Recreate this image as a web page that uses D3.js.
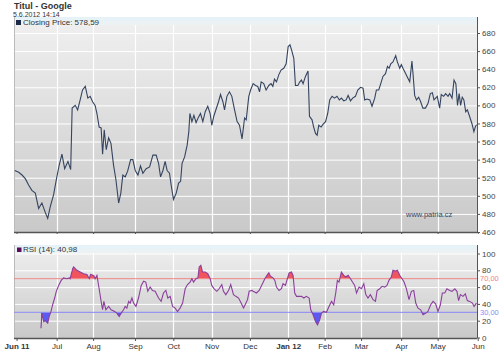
<!DOCTYPE html>
<html>
<head>
<meta charset="utf-8">
<script src="https://cdn.jsdelivr.net/npm/d3@7"></script>
<style>
  body { margin: 0; background: #fff; }
  svg { display: block; font-family: "Liberation Sans", Arial, sans-serif; }
</style>
</head>
<body>
<div id="chart"></div>
<script>
// trading day index (0 = 1 Jun 2011), closing price
const closing = [
  [-1.0,528],[1.2,526],[3.0,523],[4.8,519],[6.6,512],[8.4,506],[10.3,503],[12.1,486],[13.9,492],[15.7,482],
  [17.1,475],[18.5,488],[20.3,501],[22.1,521],[23.4,534],[24.9,546],[26.4,530],[28.2,538],[29.7,529],[30.5,597],
  [32.2,600],[33.5,595],[34.9,606],[36.2,617],[37.7,621],[39.1,608],[40.4,610],[41.7,604],[43.1,600],[44.1,591],
  [45.3,576],[46.4,575],[47.2,546],[48.1,573],[49.2,551],[50.5,564],[51.8,558],[53.2,534],[54.5,518],[56.0,492],
  [57.2,503],[58.3,523],[59.6,521],[60.9,527],[62.6,540],[63.8,540],[65.1,528],[66.6,523],[68.0,533],[69.3,525],
  [71.1,530],[73.0,532],[74.8,545],[76.6,545],[77.9,536],[79.0,521],[80.3,528],[81.5,538],[82.6,528],[83.9,525],
  [84.8,512],[86.1,496],[87.6,503],[88.9,514],[90.0,516],[90.8,536],[92.2,543],[93.6,556],[94.5,571],[95.1,591],
  [96.2,582],[97.3,589],[98.5,581],[99.8,587],[100.9,591],[102.2,582],[103.5,593],[104.9,599],[106.2,591],[107.1,578],
  [108.2,588],[109.5,596],[110.8,604],[111.9,612],[113.2,604],[114.1,595],[115.4,610],[116.8,615],[118.1,610],[119.6,595],
  [121.0,582],[122.3,578],[123.7,563],[125.1,586],[126.0,584],[127.4,610],[128.4,617],[129.8,624],[131.1,622],[132.3,621],
  [133.3,615],[134.2,626],[135.6,624],[136.9,617],[138.4,622],[139.6,624],[140.6,621],[141.5,629],[142.6,626],[143.9,634],
  [145.1,639],[146.6,641],[147.9,646],[149.0,665],[150.0,667],[150.9,661],[152.1,652],[153.0,622],[154.3,622],[155.4,626],
  [156.3,628],[157.2,624],[158.5,632],[159.9,638],[160.7,588],[162.1,584],[163.0,576],[164.0,569],[164.9,567],[165.8,578],
  [167.1,576],[168.1,579],[169.5,582],[170.7,591],[171.8,606],[173.1,610],[174.4,608],[175.8,610],[177.1,606],[178.2,608],
  [179.5,605],[180.8,606],[181.9,611],[183.2,605],[184.4,608],[185.9,610],[187.2,617],[188.7,620],[190.1,619],[191.0,606],
  [192.3,607],[193.8,606],[195.0,599],[196.5,608],[197.4,617],[198.7,617],[199.8,624],[201.0,632],[202.4,635],[203.5,643],
  [204.4,641],[205.3,646],[206.5,648],[208.0,655],[208.9,648],[210.2,641],[211.1,645],[212.0,641],[213.5,635],[214.7,630],
  [215.7,626],[216.9,649],[217.5,635],[218.4,611],[219.4,606],[220.6,609],[221.7,604],[222.9,597],[224.3,597],[225.7,602],
  [227.0,613],[228.1,614],[229.0,606],[229.9,608],[230.8,610],[232.1,597],[233.0,612],[234.3,610],[235.4,613],[236.7,610],
  [237.6,613],[238.9,608],[240.0,628],[241.0,624],[241.9,600],[242.8,613],[243.6,600],[244.5,609],[245.4,606],[246.4,593],
  [247.3,595],[248.5,588],[249.8,580],[250.9,571],[251.8,577],[252.4,578.59]
];

// trading day index, RSI(14)
const rsi = [
  [13.4,11],[13.9,29],[14.9,19],[15.7,20],[17.1,17],[17.9,25],[18.9,31],[19.8,39],[20.9,47],[21.8,55],
  [23.1,62],[24.5,68],[25.8,71],[27.6,70],[28.9,71],[29.4,70],[30.8,82],[31.3,84],[33.1,80],[34.9,78],
  [36.8,76],[38.6,75],[39.9,70],[40.6,75],[42.3,74],[43.1,70],[44.1,74],[45.3,58],[46.4,43],[47.2,33],
  [47.9,43],[49.0,33],[50.5,37],[51.9,33],[53.8,31],[55.0,29],[56.3,25],[57.4,29],[58.7,33],[59.6,37],
  [60.5,35],[61.5,43],[62.3,41],[63.3,47],[64.2,41],[65.5,37],[66.9,47],[68.4,62],[69.7,67],[70.9,66],
  [72.0,55],[73.3,60],[74.6,56],[76.0,55],[77.9,47],[79.3,43],[80.6,53],[81.9,56],[83.0,47],[84.3,49],
  [85.6,37],[87.0,35],[88.3,31],[89.7,35],[91.1,41],[92.5,58],[93.8,63],[95.2,66],[96.2,70],[97.1,66],
  [98.4,70],[99.5,71],[100.2,84],[101.1,86],[102.0,78],[103.5,78],[104.9,76],[106.2,70],[107.1,62],[108.4,58],
  [109.9,55],[111.1,58],[112.6,63],[113.5,55],[114.8,51],[116.3,56],[117.5,63],[119.0,51],[120.3,49],[121.8,47],
  [123.2,41],[124.5,35],[125.4,39],[126.7,45],[127.6,55],[129.1,56],[129.8,55],[131.6,53],[133.1,56],[134.9,64],
  [136.2,70],[137.4,74],[138.4,77],[139.3,73],[140.7,71],[141.7,68],[142.6,60],[144.0,56],[145.3,58],[146.2,64],
  [147.5,62],[148.6,70],[149.5,77],[150.8,78],[151.7,74],[152.6,53],[153.6,49],[155.0,49],[156.3,49],[157.6,47],
  [159.0,49],[160.5,47],[161.4,33],[162.7,27],[164.0,19],[165.1,15],[166.3,21],[167.3,29],[168.5,31],[170.0,30],
  [171.4,37],[172.8,43],[174.0,39],[175.1,53],[176.0,68],[176.9,66],[178.2,78],[179.5,74],[180.6,72],[181.9,74],
  [183.2,70],[184.3,66],[185.5,62],[186.5,53],[187.9,60],[189.2,58],[190.5,64],[191.6,51],[192.8,47],[194.1,51],
  [195.6,45],[196.9,43],[197.8,56],[199.2,58],[200.5,61],[202.0,60],[203.2,62],[204.3,68],[205.6,72],[206.5,80],
  [207.8,79],[208.9,80],[210.2,74],[211.5,70],[212.6,66],[213.9,58],[215.3,45],[216.6,55],[217.9,56],[219.0,41],
  [220.2,35],[221.7,33],[223.0,27],[224.5,29],[225.7,31],[227.2,39],[228.5,43],[229.9,40],[231.2,31],[232.5,39],
  [233.6,53],[234.9,53],[236.1,58],[237.6,56],[238.9,55],[240.4,58],[241.6,55],[242.5,44],[243.5,51],[244.9,49],
  [246.2,52],[247.3,44],[248.6,43],[250.1,41],[251.0,37],[252.3,40.98]
];

const monthDays = [0, 22, 42, 65, 86, 107, 128, 149, 169, 189, 211, 231, 253];
const monthLabels = ["Jun 11", "Jul", "Aug", "Sep", "Oct", "Nov", "Dec", "Jan 12", "Feb", "Mar", "Apr", "May", "Jun"];
const priceTicks = [460, 480, 500, 520, 540, 560, 580, 600, 620, 640, 660, 680];
const rsiTicks = [0, 20, 40, 60, 80, 100];
const rsiLevels = [70, 30];

const width = 500, height = 351;
const left = 14, right = 477;
// panels: band top, plot bottom
const p1 = {top: 17, bottom: 232};
const p2 = {top: 245, bottom: 338};

const x = d3.scaleLinear().domain([-1.4, 252.6]).range([left, right]);
const yPrice = d3.scaleLinear().domain([460, 680]).range([232, 33]);
const yRsi = d3.scaleLinear().domain([0, 100]).range([337.5, 253.5]);

const svg = d3.select("#chart").append("svg")
  .attr("width", width).attr("height", height)
  .attr("viewBox", [0, 0, width, height]);

const defs = svg.append("defs");
const bg = defs.append("linearGradient").attr("id", "bg").attr("x1", 0).attr("y1", 0).attr("x2", 0).attr("y2", 1);
bg.append("stop").attr("offset", "0%").attr("stop-color", "#f0f0f0");
bg.append("stop").attr("offset", "100%").attr("stop-color", "#c9c9c9");
const band = defs.append("linearGradient").attr("id", "band").attr("x1", 0).attr("y1", 0).attr("x2", 0).attr("y2", 1);
band.append("stop").attr("offset", "0%").attr("stop-color", "#e4f3f9");
band.append("stop").attr("offset", "100%").attr("stop-color", "#eef2f3");

defs.append("clipPath").attr("id", "above70").append("rect")
  .attr("x", left).attr("y", p2.top).attr("width", right - left).attr("height", yRsi(70) - p2.top);
defs.append("clipPath").attr("id", "below30").append("rect")
  .attr("x", left).attr("y", yRsi(30)).attr("width", right - left).attr("height", p2.bottom - yRsi(30));

// title
svg.append("text").attr("x", 14).attr("y", 9).attr("font-size", 9).attr("font-weight", "bold")
  .attr("fill", "#333").text("Titul - Google");
svg.append("text").attr("x", 13).attr("y", 16.5).attr("font-size", 7).attr("fill", "#333")
  .text("5.6.2012 14:14");

function panel(p, yScale, ticks) {
  svg.append("rect").attr("x", left).attr("y", p.top).attr("width", right - left).attr("height", p.bottom - p.top)
    .attr("fill", "url(#bg)");
  svg.append("rect").attr("x", left).attr("y", p.top).attr("width", right - left).attr("height", 8)
    .attr("fill", "url(#band)");
  // grid
  svg.append("g").selectAll("line").data(ticks).join("line")
    .attr("x1", left).attr("x2", right)
    .attr("y1", d => yScale(d) + 0.5).attr("y2", d => yScale(d) + 0.5)
    .attr("stroke", "#fff").attr("stroke-width", 1);
  svg.append("g").selectAll("line").data(monthDays.slice(1, -1)).join("line")
    .attr("x1", d => Math.round(x(d)) + 0.5).attr("x2", d => Math.round(x(d)) + 0.5)
    .attr("y1", p.top + 8).attr("y2", p.bottom)
    .attr("stroke", "#fff").attr("stroke-width", 1.2);
  svg.append("line").attr("x1", left + 0.5).attr("x2", left + 0.5).attr("y1", p.top).attr("y2", p.bottom)
    .attr("stroke", "#bbb");
}

function styleAxis(g) {
  g.selectAll(".domain").attr("stroke", "#555");
  g.selectAll(".tick line").attr("stroke", "#555");
  g.selectAll(".tick text").attr("fill", "#444").attr("font-size", 8)
    .attr("font-family", "'Liberation Sans', Arial, sans-serif");
}

// price panel
panel(p1, yPrice, priceTicks);

svg.append("path").datum(closing)
  .attr("fill", "none").attr("stroke", "#34445f").attr("stroke-width", 1.1)
  .attr("d", d3.line().x(d => x(d[0])).y(d => yPrice(d[1])));

svg.append("text").attr("x", 406).attr("y", 217).attr("font-size", 7.5).attr("fill", "#334466")
  .text("www.patria.cz");

svg.append("g").attr("transform", `translate(${right},0)`)
  .call(d3.axisRight(yPrice).tickValues(priceTicks).tickSize(3).tickPadding(2).tickSizeOuter(0))
  .call(g => g.select(".domain").attr("d", `M0.5,${p1.top}V${p1.bottom}`))
  .call(styleAxis);

svg.append("g").attr("transform", `translate(0,${p1.bottom})`)
  .call(d3.axisBottom(x).tickValues(monthDays).tickSize(2).tickFormat("").tickSizeOuter(0))
  .call(g => g.select(".domain").attr("d", `M${left},0.5H${right}`).attr("stroke-width", 1.5))
  .call(styleAxis);

svg.append("rect").attr("x", 16).attr("y", 20).attr("width", 5).attr("height", 5).attr("fill", "#1c2a48");
svg.append("text").attr("x", 23).attr("y", 24.5).attr("font-size", 8).attr("fill", "#333")
  .text("Closing Price: 578,59");

// RSI panel
panel(p2, yRsi, [20, 40, 60, 80, 100]);

const rsiArea = level => d3.area().x(d => x(d[0])).y0(yRsi(level)).y1(d => yRsi(d[1]));
svg.append("path").datum(rsi).attr("clip-path", "url(#above70)")
  .attr("fill", "#f2545e").attr("d", rsiArea(70));
svg.append("path").datum(rsi).attr("clip-path", "url(#below30)")
  .attr("fill", "#5a5af2").attr("d", rsiArea(30));

svg.append("g").selectAll("line").data(rsiLevels).join("line")
  .attr("x1", left).attr("x2", right)
  .attr("y1", d => yRsi(d)).attr("y2", d => yRsi(d))
  .attr("stroke", d => d === 70 ? "#f08a8a" : "#8c8cf6").attr("stroke-width", 1);

svg.append("path").datum(rsi)
  .attr("fill", "none").attr("stroke", "#8a3f9c").attr("stroke-width", 1.1)
  .attr("d", d3.line().x(d => x(d[0])).y(d => yRsi(d[1])));

svg.append("g").attr("transform", `translate(${right},0)`)
  .call(d3.axisRight(yRsi).tickValues(rsiTicks).tickSize(3).tickPadding(2).tickSizeOuter(0))
  .call(g => g.select(".domain").attr("d", `M0.5,${p2.top}V${p2.bottom}`))
  .call(styleAxis);

svg.append("g").selectAll("text").data(rsiLevels).join("text")
  .attr("x", right + 3).attr("y", d => yRsi(d) + 2.6)
  .attr("font-size", 7.5)
  .attr("fill", d => d === 70 ? "#f08080" : "#8c8cf6")
  .text(d => d3.format(".2f")(d).replace(".", ","));

svg.append("g").attr("transform", `translate(0,${p2.bottom})`)
  .call(d3.axisBottom(x).tickValues(monthDays).tickSize(3).tickPadding(2).tickSizeOuter(0)
    .tickFormat((d, i) => monthLabels[i]))
  .call(g => g.select(".domain").attr("d", `M${left},0.5H${right}`).attr("stroke-width", 1.5))
  .call(styleAxis)
  .call(g => g.selectAll(".tick text")
    .attr("font-weight", (d, i) => monthLabels[i].includes(" ") ? "bold" : "normal")
    .attr("fill", "#333"));

svg.append("rect").attr("x", 17).attr("y", 247.5).attr("width", 4.5).attr("height", 4.5).attr("fill", "#5a0a5a");
svg.append("text").attr("x", 23).attr("y", 252).attr("font-size", 8).attr("fill", "#333")
  .text("RSI (14): 40,98");
</script>
</body>
</html>
